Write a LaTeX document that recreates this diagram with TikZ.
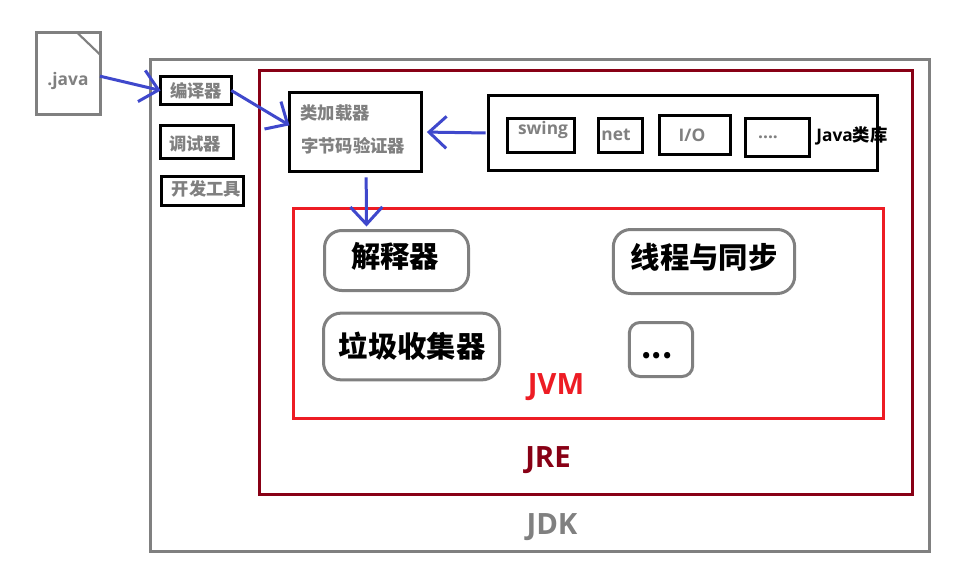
\documentclass[tikz,border=0pt]{standalone}
\usepackage{fontspec}
\usetikzlibrary{arrows.meta}
\setmainfont{Open Sans}[BoldFont={Open Sans Bold}]
\newfontfamily\cjk{Noto Sans CJK SC Bold}
\definecolor{gr}{HTML}{808080}
\definecolor{dkred}{HTML}{880015}
\definecolor{brred}{HTML}{ED1C24}
\definecolor{bl}{HTML}{3F48CC}
\newcommand{\fs}[1]{\fontsize{#1}{#1}\selectfont}
\tikzset{
  x=0.75pt,y=-0.75pt,
  frame/.style={draw,rectangle,inner sep=0pt,outer sep=0pt,line width=2.25pt,fill=none},
  blackbox/.style={frame,draw=black},
  softbox/.style={frame,draw=gr,rounded corners=13pt},
  small/.style={inner sep=0pt,text=gr,font=\bfseries\fs{13}\cjk},
  latin/.style={inner sep=0pt,text=gr,font=\bfseries\fs{13}},
  big/.style={inner sep=0pt,text=black,font=\bfseries\fs{22}\cjk},
  title/.style={inner sep=0pt,font=\bfseries\fs{22}},
  flow/.style={draw=bl,line width=2.25pt,-{Straight Barb[length=13pt,width=24pt,line width=2.25pt]}}
}
\begin{document}
\begin{tikzpicture}
\useasboundingbox (0,0) rectangle (975,586);
\fill[white] (0,0) rectangle (975,586);
% file icon
\node[frame,draw=gr,minimum width=48pt,minimum height=61.5pt] (file) at (68,73.5) {};
\draw[gr,line width=1.6pt] (76.5,32) -- (100.5,55);
\node[latin] (filetxt) at (68,81) {.java};
% nested frames
\node[frame,draw=gr,minimum width=584pt,minimum height=369pt] (jdk) at (540,305.5) {};
\node[frame,draw=dkred,minimum width=489.75pt,minimum height=318pt] (jre) at (586,282.5) {};
\node[frame,draw=brred,minimum width=442.5pt,minimum height=157.5pt] (jvm) at (588.5,313) {};
\node[title,text=gr] (jdktxt) at (552,527) {JDK};
\node[title,text=dkred] (jretxt) at (548,460) {JRE};
\node[title,text=brred] (jvmtxt) at (556,387) {JVM};
% tools
\node[blackbox,minimum width=53pt,minimum height=21pt] (compiler) at (196,90.5) {};
\node[small] at (196,91) {编译器};
\node[blackbox,minimum width=54.5pt,minimum height=25pt] (debugger) at (197,142) {};
\node[small] at (195,144) {调试器};
\node[blackbox,minimum width=61.5pt,minimum height=22pt] (devtools) at (202.5,191) {};
\node[small] at (206.5,189) {开发工具};
% loader
\node[blackbox,minimum width=99pt,minimum height=59pt] (loader) at (355.5,132) {};
\node[small] (l1) at (335,113) {类加载器};
\node[small] (l2) at (353,146) {字节码验证器};
% library
\node[blackbox,minimum width=292pt,minimum height=56pt] (lib) at (683,133) {};
\node[blackbox,minimum width=50pt,minimum height=25.5pt] (swing) at (541,135.5) {};
\node[latin] at (543,130) {swing};
\node[blackbox,minimum width=33pt,minimum height=25.5pt] (net) at (620.5,135.5) {};
\node[latin] at (616,135) {net};
\node[blackbox,minimum width=53pt,minimum height=29pt] (io) at (695,135) {};
\node[latin] at (692,135) {I/O};
\node[blackbox,minimum width=48pt,minimum height=29pt] (dots) at (777.5,137.5) {};
\node[latin] at (768,137) {....};
\node[inner sep=0pt,text=black,font=\bfseries\fs{13}] (libtxt) at (852,136) {Java{\cjk 类库}};
% jvm contents
\node[softbox,minimum width=108pt,minimum height=45pt] (interp) at (396.5,260.5) {};
\node[big] at (395,256) {解释器};
\node[softbox,minimum width=136pt,minimum height=48pt] (thread) at (704,261.5) {};
\node[big] at (704,257) {线程与同步};
\node[softbox,minimum width=132pt,minimum height=50pt] (gc) at (411.5,346.5) {};
\node[big] at (412,346) {垃圾收集器};
\node[softbox,rounded corners=8pt,minimum width=47.5pt,minimum height=40.5pt] (more) at (661,349.5) {};
\node[big] at (657,356) {...};
% connectors
\draw[flow] ([yshift=-2pt]file.east) -- (compiler.west);
\draw[flow] (compiler.east) -- ([yshift=5pt]loader.west);
\draw[flow] ([xshift=8pt,yshift=-4.5pt]loader.south) -- ([xshift=-22.5pt,yshift=3pt]interp.north);
\draw[flow,shorten <=2pt,shorten >=4pt] (lib.west) -- (loader.east);
\end{tikzpicture}
\end{document}
